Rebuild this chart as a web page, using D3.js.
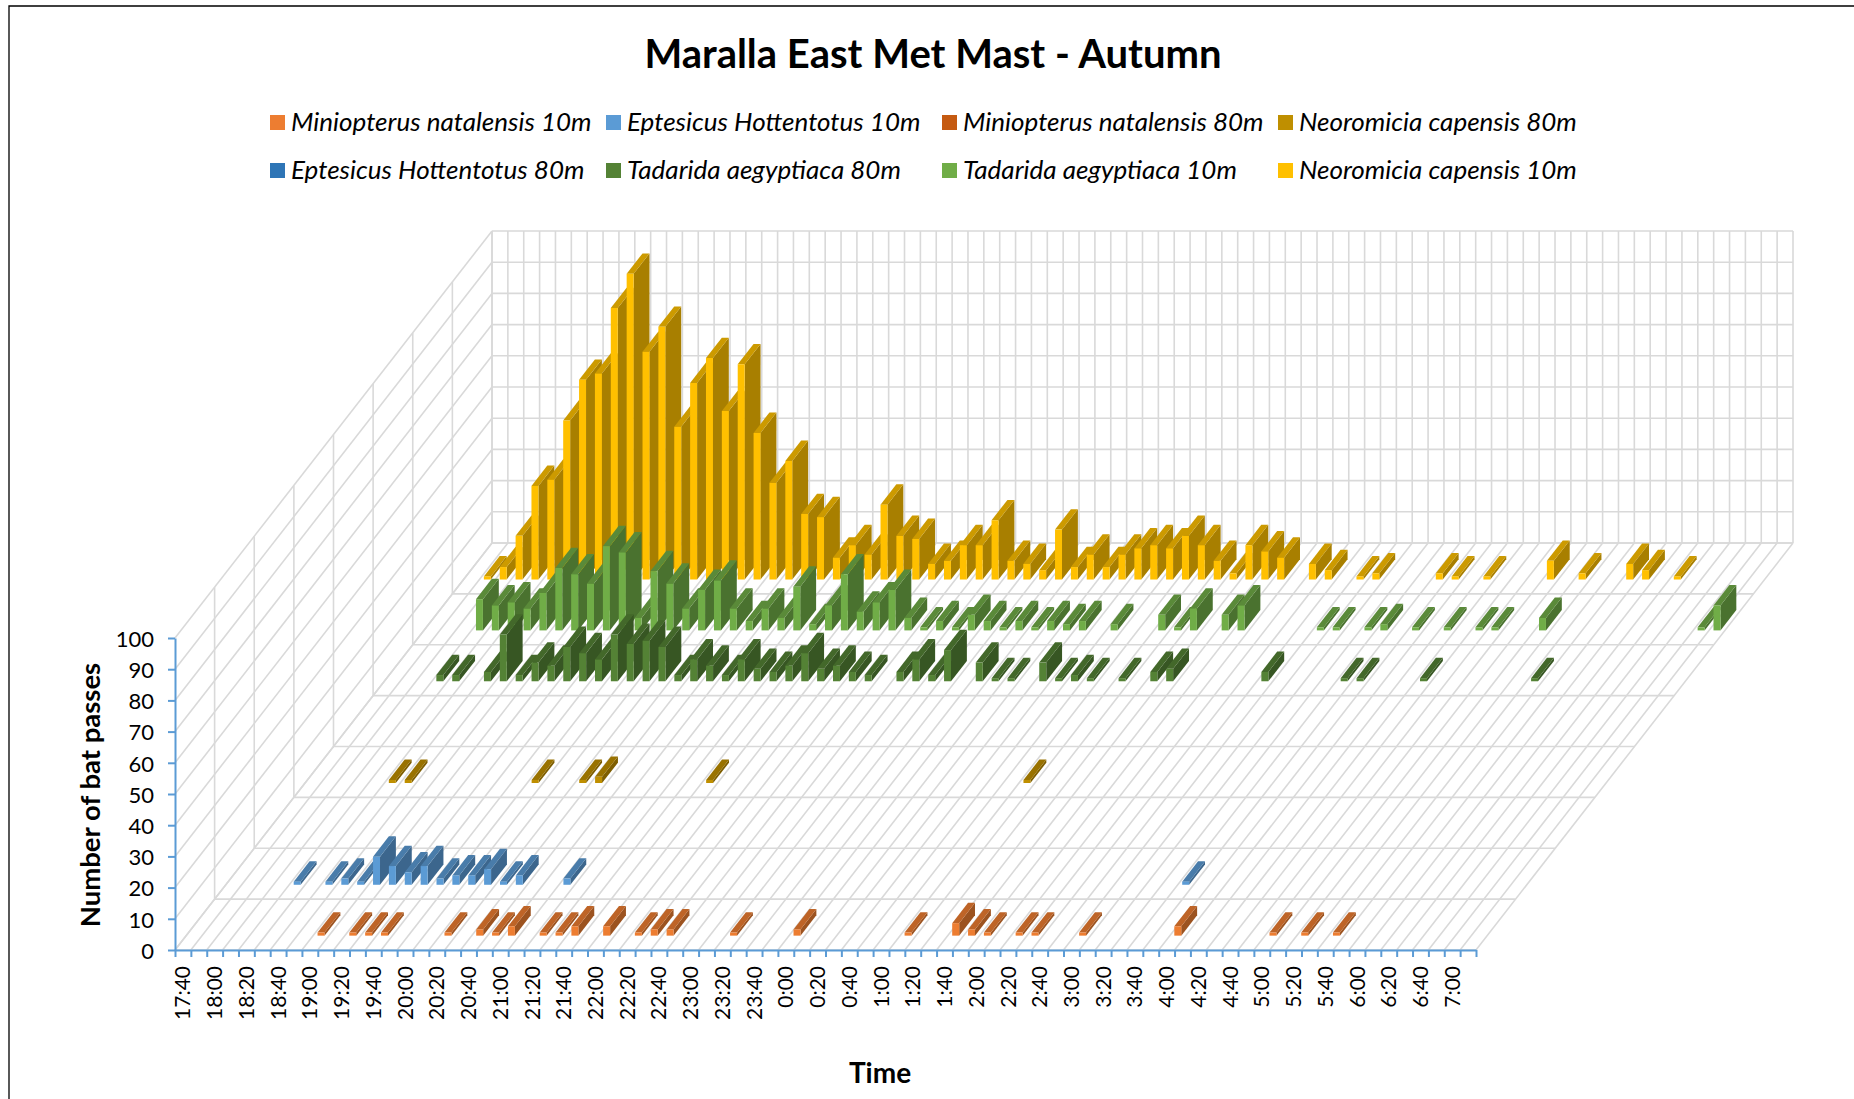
<!DOCTYPE html>
<html lang="en">
<head>
  <meta charset="UTF-8">
  <title>Maralla East Met Mast - Autumn</title>
  <script src="https://d3js.org/d3.v7.min.js" charset="utf-8"></script>
  <style>
    body { margin: 0; background: #fff; }
    text { font-family: Lato, "Open Sans", sans-serif; fill: #000; }
  </style>
</head>
<body>
<div id="chart"></div>

<script>

var categories = [
  "17:40","17:50","18:00","18:10","18:20","18:30","18:40","18:50","19:00","19:10",
  "19:20","19:30","19:40","19:50","20:00","20:10","20:20","20:30","20:40","20:50",
  "21:00","21:10","21:20","21:30","21:40","21:50","22:00","22:10","22:20","22:30",
  "22:40","22:50","23:00","23:10","23:20","23:30","23:40","23:50","0:00","0:10",
  "0:20","0:30","0:40","0:50","1:00","1:10","1:20","1:30","1:40","1:50",
  "2:00","2:10","2:20","2:30","2:40","2:50","3:00","3:10","3:20","3:30",
  "3:40","3:50","4:00","4:10","4:20","4:30","4:40","4:50","5:00","5:10",
  "5:20","5:30","5:40","5:50","6:00","6:10","6:20","6:30","6:40","6:50",
  "7:00","7:10"
];

// front to back, same order as the legend
var seriesNames = [
  "Miniopterus natalensis 10m", "Eptesicus Hottentotus 10m",
  "Miniopterus natalensis 80m", "Neoromicia capensis 80m",
  "Eptesicus Hottentotus 80m", "Tadarida aegyptiaca 80m",
  "Tadarida aegyptiaca 10m", "Neoromicia capensis 10m"
];
var seriesColors = ["#ED7D31", "#5B9BD5", "#C55A11", "#BF8F00", "#2E75B6", "#548235", "#70AD47", "#FFC000"];

var natalensis10 = [
  0,0,0,0,0,0,0,0,1,0, 1,1,1,0,0,0,1,0,2,1, 3,0,1,1,3,0,3,0,1,2, 2,0,0,0,1,0,0,0,2,0,
  0,0,0,0,0,1,0,0,4,2, 1,0,1,1,0,0,1,0,0,0, 0,0,3,0,0,0,0,0,1,0, 1,0,1,0,0,0,0,0,0,0,0,0];
var hottentotus10 = [
  0,0,0,0,1,0,1,2,1,9, 6,4,6,2,3,3,5,1,3,0, 0,2,0,0,0,0,0,0,0,0, 0,0,0,0,0,0,0,0,0,0,
  0,0,0,0,0,0,0,0,0,0, 0,0,0,0,0,0,0,0,0,0, 1,0,0,0,0,0,0,0,0,0, 0,0,0,0,0,0,0,0,0,0,0,0];
var natalensis80 = [
  0,0,0,0,0,0,0,0,0,0, 0,0,0,0,0,0,0,0,0,0, 0,0,0,0,0,0,0,0,0,0, 0,0,0,0,0,0,0,0,0,0,
  0,0,0,0,0,0,0,0,0,0, 0,0,0,0,0,0,0,0,0,0, 0,0,0,0,0,0,0,0,0,0, 0,0,0,0,0,0,0,0,0,0,0,0];
var capensis80 = [
  0,0,0,0,0,1,1,0,0,0, 0,0,0,0,1,0,0,1,2,0, 0,0,0,0,0,1,0,0,0,0, 0,0,0,0,0,0,0,0,0,0,
  0,0,0,0,0,1,0,0,0,0, 0,0,0,0,0,0,0,0,0,0, 0,0,0,0,0,0,0,0,0,0, 0,0,0,0,0,0,0,0,0,0,0,0];
var hottentotus80 = [
  0,0,0,0,0,0,0,0,0,0, 0,0,0,0,0,0,0,0,0,0, 0,0,0,0,0,0,0,0,0,0, 0,0,0,0,0,0,0,0,0,0,
  0,0,0,0,0,0,0,0,0,0, 0,0,0,0,0,0,0,0,0,0, 0,0,0,0,0,0,0,0,0,0, 0,0,0,0,0,0,0,0,0,0,0,0];
var aegyptiaca80 = [
  0,0,0,2,2,0,3,15,2,6, 5,11,9,7,15,12,13,11,2,7, 5,2,7,4,3,5,9,4,5,3, 2,0,3,7,2,10,0,6,1,1,
  0,6,1,2,1,0,1,0,3,4, 0,0,0,0,0,3,0,0,0,0, 1,1,0,0,0,1,0,0,0,0, 0,0,1,0,0,0,0,0,0,0,0,0];
var aegyptiaca10 = [
  0,0,0,10,8,9,7,12,20,18, 15,27,25,4,19,15,7,13,16,7, 3,7,4,14,2,8,18,6,9,13, 4,1,3,1,5,3,1,3,1,3,
  2,3,0,2,0,0,5,1,7,0, 5,8,0,0,0,0,1,1,0,1, 2,0,1,0,1,0,1,1,0,0, 4,0,0,0,0,0,0,0,0,0,1,8];
var capensis10 = [
  0,1,4,14,30,32,51,64,66,87, 98,73,81,49,63,71,54,69,47,31, 38,21,20,7,11,8,24,14,13,5, 6,11,11,19,6,5,3,16,4,8,
  4,8,10,11,10,14,11,6,2,11, 9,7,0,5,3,0,1,2,0,0, 0,2,1,0,1,0,0,0,6,0, 2,0,0,5,3,0,1,0,0,0,0,0];

var seriesValues = [natalensis10, hottentotus10, natalensis80, capensis80,
                    hottentotus80, aegyptiaca80, aegyptiaca10, capensis10];

var yTicks = [0, 10, 20, 30, 40, 50, 60, 70, 80, 90, 100];

var width = 1854, height = 1099;

// front corner of the floor, and how far the depth axis runs in screen pixels
var originX = 175, originY = 950;
var plotW = 1301, plotH = 312;
var depthX = 317, depthY = 407;

var svg = d3.select("#chart").append("svg")
  .attr("width", width)
  .attr("height", height);

var x = d3.scaleBand().domain(categories).range([0, plotW]).paddingInner(0.56).paddingOuter(0.28);
var y = d3.scaleLinear().domain([0, 100]).range([0, plotH]);
var z = d3.scaleBand().domain(seriesNames).range([0, 1]).paddingInner(0.6).paddingOuter(0.3).align(0.47);

// oblique projection: px along the floor, depth 0..1, h pixels above the floor
function pt(px, depth, h) {
  return [originX + px + depth * depthX, originY - depth * depthY - h];
}
function poly(points) {
  return d3.line()(points) + "Z";
}
function shade(c, f) {
  var o = d3.rgb(c);
  return d3.rgb(o.r * f, o.g * f, o.b * f).formatHex();
}

// frame, only top and left fall inside the picture
svg.append("path").attr("d", "M9,1099V6H1854").attr("fill", "none").attr("stroke", "#000").attr("stroke-width", 1.3);

// grid
var grid = svg.append("g").attr("stroke", "#D9D9D9").attr("stroke-width", 1.6).attr("fill", "none");
var gridLine = (a, b) => grid.append("path").attr("d", d3.line()([a, b]));
var step = x.step();

d3.range(categories.length + 1).forEach(i => {
  gridLine(pt(i * step, 0, 0), pt(i * step, 1, 0));
  gridLine(pt(i * step, 1, 0), pt(i * step, 1, plotH));
});
d3.range(seriesNames.length + 1).forEach(k => {
  var d = k / seriesNames.length;
  gridLine(pt(0, d, 0), pt(plotW, d, 0));
  if (k > 0) gridLine(pt(0, d, 0), pt(0, d, plotH));
});
yTicks.forEach(t => {
  gridLine(pt(0, 0, y(t)), pt(0, 1, y(t)));
  gridLine(pt(0, 1, y(t)), pt(plotW, 1, y(t)));
});

// bars, back row first and left to right so the nearer ones cover the sides
var bars = svg.append("g");
d3.range(seriesNames.length - 1, -1, -1).forEach(k => {
  var name = seriesNames[k];
  var color = seriesColors[k];
  var z0 = z(name), z1 = z0 + z.bandwidth();
  seriesValues[k].forEach((v, i) => {
    if (!v) return;
    var x0 = x(categories[i]), x1 = x0 + x.bandwidth(), h = y(v);
    var g = bars.append("g");
    g.append("path").attr("fill", shade(color, 0.66))
      .attr("d", poly([pt(x1, z0, 0), pt(x1, z1, 0), pt(x1, z1, h), pt(x1, z0, h)]));
    g.append("path").attr("fill", shade(color, 0.8))
      .attr("d", poly([pt(x0, z0, h), pt(x1, z0, h), pt(x1, z1, h), pt(x0, z1, h)]));
    g.append("path").attr("fill", color)
      .attr("d", poly([pt(x0, z0, 0), pt(x1, z0, 0), pt(x1, z0, h), pt(x0, z0, h)]));
  });
});

// axes
var yAxisScale = d3.scaleLinear().domain([0, 100]).range([originY, originY - plotH]);
var yAxis = svg.append("g")
  .attr("transform", "translate(" + originX + ",0)")
  .call(d3.axisLeft(yAxisScale).tickValues(yTicks).tickSize(7).tickSizeOuter(0));
yAxis.selectAll("text").attr("font-size", 22).attr("x", -21).attr("dy", "0.38em");

var xTickScale = d3.scaleLinear().domain([0, categories.length]).range([originX, originX + plotW]);
var xTicks = svg.append("g")
  .attr("transform", "translate(0," + originY + ")")
  .call(d3.axisBottom(xTickScale).tickValues(d3.range(categories.length + 1)).tickSize(7).tickSizeOuter(0).tickFormat(""));

var xLabels = svg.append("g")
  .attr("transform", "translate(" + originX + "," + originY + ")")
  .call(d3.axisBottom(x).tickValues(categories.filter((c, i) => i % 2 === 0 && i < 81)).tickSize(0));
xLabels.select(".domain").remove();
xLabels.selectAll("text")
  .attr("font-size", 21)
  .attr("transform", "rotate(-90)")
  .attr("x", -16)
  .attr("y", 0)
  .attr("dy", "0.36em")
  .attr("text-anchor", "end");

[yAxis, xTicks].forEach(a => {
  a.selectAll(".domain, .tick line").attr("stroke", "#5B9BD5").attr("stroke-width", 2);
});

// titles
svg.append("text").attr("x", 933).attr("y", 68).attr("text-anchor", "middle")
  .attr("font-size", 40).attr("font-weight", 700).text("Maralla East Met Mast - Autumn");
svg.append("text").attr("transform", "translate(100,795) rotate(-90)").attr("text-anchor", "middle")
  .attr("font-size", 27.5).attr("font-weight", 700).text("Number of bat passes");
svg.append("text").attr("x", 880).attr("y", 1083).attr("text-anchor", "middle")
  .attr("font-size", 28).attr("font-weight", 700).text("Time");

// legend, 4 columns by 2 rows
var legendX = [270, 606, 942, 1278];
var legendY = [115, 163];
var legend = svg.selectAll(".legend").data(seriesNames).enter().append("g")
  .attr("class", "legend")
  .attr("transform", (d, i) => "translate(" + legendX[i % 4] + "," + legendY[Math.floor(i / 4)] + ")");
legend.append("rect").attr("width", 15).attr("height", 15).attr("fill", (d, i) => seriesColors[i]);
legend.append("text").attr("x", 21).attr("y", 16)
  .attr("font-size", 26).attr("font-style", "italic").text(d => d);

</script>
</body>
</html>
